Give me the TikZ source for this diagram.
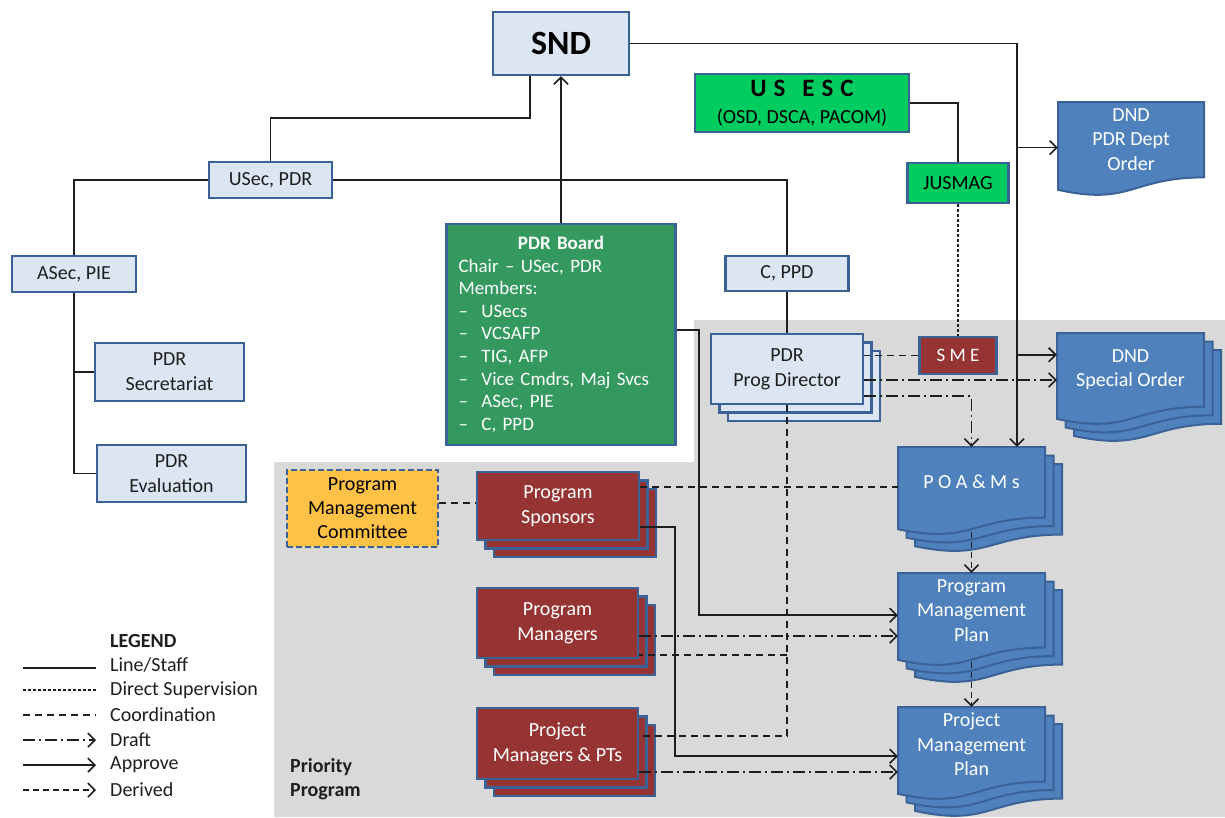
\documentclass[tikz,border=0pt]{standalone}
\usepackage{fontspec}
\setmainfont{Carlito}
\usetikzlibrary{arrows.meta,calc}
\definecolor{lblue}{RGB}{220,230,242}
\definecolor{bordc}{RGB}{58,98,150}
\definecolor{docblue}{RGB}{79,129,189}
\definecolor{mred}{RGB}{150,52,52}
\definecolor{brgreen}{RGB}{0,204,96}
\definecolor{dkgreen}{RGB}{51,153,94}
\definecolor{gold}{RGB}{255,194,70}
\definecolor{bggray}{RGB}{217,217,217}
\definecolor{lnc}{RGB}{30,30,30}
\newcommand\fs[2]{\fontsize{#1}{#2}\selectfont}
\newcommand\stackrect[5]{%
  \draw[#5] (#1+17,#2+17) rectangle (#3+17,#4+17);
  \draw[#5] (#1+8.5,#2+8.5) rectangle (#3+8.5,#4+8.5);}
\newcommand\docshape[5]{%
  \draw[#5] (#1,#2) -- ({#1+#3},#2) -- ({#1+#3},{#2+0.802*#4})
    .. controls ({#1+0.5*#3},{#2+0.802*#4}) and ({#1+0.5*#3},{#2+1.1075*#4}) ..
    (#1,{#2+0.934*#4}) -- cycle;}
\newcommand\docstack[5]{%
  \docshape{#1+17}{#2+17}{#3}{#4}{#5}%
  \docshape{#1+8.5}{#2+8.5}{#3}{#4}{#5}%
  \docshape{#1}{#2}{#3}{#4}{#5}}
\tikzset{
  box/.style={draw=bordc, line width=2.4pt, align=center, inner sep=0pt, font=\fs{20}{25}},
  lbox/.style={box, fill=lblue, text=lnc},
  gbox/.style={box, fill=brgreen, text=black},
  rbox/.style={box, fill=mred, text=white},
  rback/.style={draw=bordc, line width=2.4pt, fill=mred},
  lback/.style={draw=bordc, line width=2.4pt, fill=lblue},
  docsh/.style={draw=bordc, line width=2pt, fill=docblue},
  doctext/.style={align=center, inner sep=0pt, text=white, font=\fs{20}{24.5}},
  legtxt/.style={anchor=west, inner sep=0pt, font=\fs{20}{24}, text=lnc},
  conn/.style={draw=lnc, line width=1.6pt},
  staffln/.style={conn},
  supervln/.style={conn, dash pattern=on 3pt off 2pt},
  coordln/.style={conn, dash pattern=on 7pt off 5pt},
  draftln/.style={conn, dash pattern=on 12pt off 4pt on 2pt off 4pt, -{Straight Barb[length=7pt,width=14pt]}},
  approveln/.style={conn, -{Straight Barb[length=7pt,width=14pt]}},
  derivedln/.style={conn, dash pattern=on 6pt off 4pt, -{Straight Barb[length=7pt,width=14pt]}},
}
\begin{document}
\begin{tikzpicture}[x=1pt,y=-1pt]
\useasboundingbox (0,0) rectangle (1225,817);
\fill[bggray] (274,462) -- (694,462) -- (694,320) -- (1225,320) -- (1225,817) -- (274,817) -- cycle;

% stacked back layers and document shapes
\stackrect{711}{334}{863}{404}{lback}
\stackrect{477}{472}{639}{540}{rback}
\stackrect{477}{588}{638}{658}{rback}
\stackrect{477}{708}{638}{779}{rback}
\docshape{1058}{102}{146}{94}{docsh}
\docstack{1057}{333}{147}{92}{docsh}
\docstack{898}{447}{147}{88}{docsh}
\docstack{898}{573}{147}{93}{docsh}
\docstack{898}{707}{147}{93}{docsh}

% nodes
\node[lbox, minimum width=136pt, minimum height=63pt, text=black, font=\fs{34}{40}\bfseries] (snd) at (561,43.5) {SND};
\node[gbox, minimum width=214pt, minimum height=58pt, font=\fs{20}{27}] (usesc) at (802,103) {{\fs{25}{30}\bfseries U\hspace{7pt}S\hspace{17pt}E\hspace{7pt}S\hspace{7pt}C}\\(OSD, DSCA, PACOM)};
\node[gbox, minimum width=101pt, minimum height=40pt] (jusmag) at (958,183) {JUSMAG};
\node[lbox, minimum width=123pt, minimum height=36pt] (usec) at (270.5,180) {USec, PDR};
\node[lbox, minimum width=124pt, minimum height=36pt] (asec) at (74,274) {ASec, PIE};
\node[lbox, minimum width=149pt, minimum height=58pt] (secr) at (169.5,372) {PDR\\Secretariat};
\node[lbox, minimum width=149pt, minimum height=57pt] (evalu) at (171.5,473.5) {PDR\\Evaluation};
\node[box, fill=dkgreen, text=white, minimum width=229pt, minimum height=221pt, text width=205pt, align=left, font=\fs{19}{22.6}] (board) at (561,334.5)
  {\makebox[205pt]{\bfseries PDR Board}\\
   Chair -- USec, PDR\\
   Members:\\
   \makebox[23pt][l]{--}USecs\\
   \makebox[23pt][l]{--}VCSAFP\\
   \makebox[23pt][l]{--}TIG, AFP\\
   \makebox[23pt][l]{--}Vice Cmdrs, Maj Svcs\\
   \makebox[23pt][l]{--}ASec, PIE\\
   \makebox[23pt][l]{--}C, PPD};
\node[lbox, minimum width=123pt, minimum height=35pt] (cppd) at (787,273.5) {C, PPD};
\node[lbox, minimum width=152pt, minimum height=70pt] (pd) at (787,369) {PDR\\Prog Director};
\node[rbox, minimum width=77pt, minimum height=37pt, font=\fs{19}{22}] (sme) at (958,355.5) {S M E};
\node[box, fill=gold, dash pattern=on 6pt off 3pt, minimum width=151pt, minimum height=77pt, text=black, font=\fs{20}{24}] (pmc) at (362.5,508.5) {Program\\Management\\Committee};
\node[rbox, minimum width=162pt, minimum height=68pt] (spons) at (558,506) {Program\\Sponsors};
\node[rbox, minimum width=161pt, minimum height=70pt] (pgmgr) at (557.5,623) {Program\\Managers};
\node[rbox, minimum width=161pt, minimum height=71pt] (pjmgr) at (557.5,743.5) {Project\\Managers \& PTs};

\node[doctext, minimum width=146pt, minimum height=75.2pt] (dndpdr) at (1131,139.6) {DND\\PDR Dept\\Order};
\node[doctext, minimum width=147pt, minimum height=73.6pt] (dndspec) at (1130.5,369.8) {DND\\Special Order};
\node[doctext, minimum width=147pt, minimum height=70.4pt] (poam) at (971.5,482.2) {P O A \& M s};
\node[doctext, minimum width=147pt, minimum height=74.4pt] (pmp) at (971.5,610.2) {Program\\Management\\Plan};
\node[doctext, minimum width=147pt, minimum height=74.4pt] (pjmp) at (971.5,744.2) {Project\\Management\\Plan};

\node[anchor=west, align=left, font=\fs{20}{24}\bfseries, inner sep=0pt, text=lnc] (prio) at (290,779) {Priority\\Program};

% legend
\node[legtxt, font=\fs{20}{24}\bfseries] (lg0) at (110,641) {LEGEND};
\node[legtxt] (lg1) at (110,665) {Line/Staff};
\node[legtxt] (lg2) at (110,690) {Direct Supervision};
\node[legtxt] (lg3) at (110,715) {Coordination};
\node[legtxt] (lg4) at (110,740) {Draft};
\node[legtxt] (lg5) at (110,765) {Approve};
\node[legtxt] (lg6) at (110,790) {Derived};
\draw[staffln] ([xshift=-87pt,yshift=-3pt]lg1.west) -- ([xshift=-14pt,yshift=-3pt]lg1.west);
\draw[supervln] ([xshift=-87pt]lg2.west) -- ([xshift=-14pt]lg2.west);
\draw[coordln] ([xshift=-87pt]lg3.west) -- ([xshift=-14pt]lg3.west);
\draw[draftln] ([xshift=-87pt]lg4.west) -- ([xshift=-14pt]lg4.west);
\draw[approveln] ([xshift=-87pt]lg5.west) -- ([xshift=-14pt]lg5.west);
\draw[derivedln] ([xshift=-87pt]lg6.west) -- ([xshift=-14pt]lg6.west);

% connectors
\draw[staffln] ([xshift=-31pt]snd.south) -- ++(0,42) -| (usec.north);
\draw[staffln] (usec.west) -| (asec.north);
\draw[staffln] (usec.east) -| (cppd.north);
\draw[staffln] (asec.south) |- (secr.west);
\draw[staffln] (asec.south) |- (evalu.west);
\draw[approveln] (board.north) -- (snd.south);
\draw[staffln] (cppd.south) -- (pd.north);
\coordinate (trunk) at ([xshift=45.5pt]poam.north);
\draw[approveln] (snd.east) -| (trunk);
\coordinate (dpA) at ([yshift=-8pt]dndpdr.west);
\draw[approveln] (trunk |- dpA) -- (dpA);
\coordinate (dsA) at ([yshift=15pt]dndspec.west);
\draw[approveln] (trunk |- dsA) -- (dsA);
\draw[staffln] (usesc.east) -| (jusmag.north);
\draw[supervln] (jusmag.south) -- (sme.north);
\draw[coordln] (sme.west) -- (sme.west -| pd.east);
\coordinate (pdA) at ([yshift=-11pt]pd.east);
\draw[draftln] (pdA) -- (pdA -| dndspec.west);
\draw[draftln] ([yshift=-27pt]pd.east) -| (poam.north);
\coordinate (pmpA) at ([yshift=-5pt]pmp.west);
\draw[approveln] ([yshift=4.5pt]board.east) -- ++(22,0) |- (pmpA);
\coordinate (pgA) at ([yshift=-32pt]pgmgr.east);
\coordinate (pjA) at ([yshift=7.5pt]pjmgr.east);
\draw[coordln] (pd.south) |- (pjA);
\draw[coordln] (pd.south |- pgA) -- (pgA);
\coordinate (spA) at ([yshift=19pt]spons.east);
\draw[coordln] (spA) -- (spA -| poam.west);
\coordinate (pmcA) at ([yshift=5.5pt]pmc.east);
\draw[coordln] (pmcA) -- (pmcA -| spons.west);
\coordinate (pjpA) at ([yshift=-12pt]pjmp.west);
\draw[approveln] ([yshift=-21pt]spons.east) -- ++(35,0) |- (pjpA);
\coordinate (pgB) at ([yshift=-13pt]pgmgr.east);
\draw[draftln] (pgB) -- (pgB -| pmp.west);
\coordinate (pjB) at ([yshift=-28.5pt]pjmgr.east);
\draw[draftln] (pjB) -- (pjB -| pjmp.west);
\draw[derivedln] ([yshift=-14pt]poam.south) -- (pmp.north);
\draw[derivedln] ([yshift=-14pt]pmp.south) -- (pjmp.north);
\end{tikzpicture}
\end{document}
